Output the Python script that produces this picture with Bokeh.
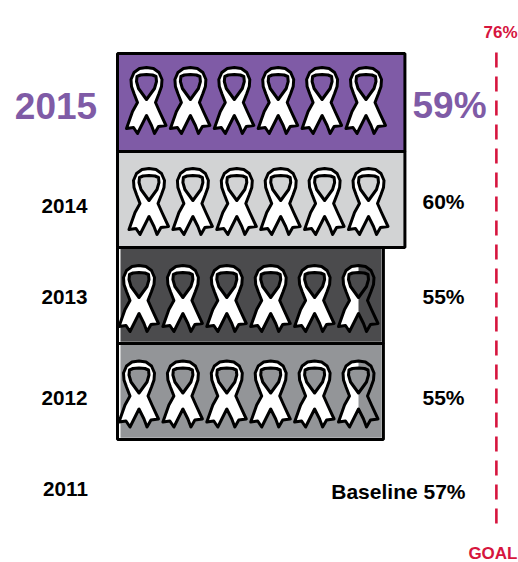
from bokeh.plotting import figure
from bokeh.models import Range1d
from bokeh.core.properties import value
from bokeh.embed import file_html
from bokeh.resources import INLINE

# ---- data ----
years = [2015, 2014, 2013, 2012]
percent = [59, 60, 55, 55]
bar_end = [59, 59, 55, 55]          # the bars as drawn (2014 stops with 2015)
ribbons_filled = [6, 6, 5.5, 5.5]   # one ribbon = 10 %
baseline_year = 2011
baseline_pct = 57
goal_pct = 76

# ---- styles ----
PURPLE = "#7f5ba6"
RED = "#d6153e"
bar_colors = [PURPLE, "#d2d3d4", "#4b4b4d", "#939598"]
bar_inset_px = [0, 0, 3.0, 3.0]

# ---- scales: px per percent, px per year ----
W, H = 518, 562
PX_PCT, PX_YEAR = 5.38, 96.0
x_start = -87 / PX_PCT
y_top = 2015 + 103 / PX_YEAR
x_range = Range1d(x_start, x_start + W / PX_PCT)
y_range = Range1d(y_top - H / PX_YEAR, y_top)

p = figure(width=W, height=H, x_range=x_range, y_range=y_range,
           x_axis_location=None, y_axis_location=None,
           toolbar_location=None, output_backend="svg",
           min_border=0, outline_line_color=None, background_fill_color="white")
p.grid.visible = False

def dx(px): return px / PX_PCT
def dy(px): return px / PX_YEAR

# ---- bars ----
bar_left = dx(30)
bar_top_off = [dy(50), dy(48), dy(48), dy(48)]
bar_bot_off = [dy(48), dy(48), dy(48), dy(48)]
tops = [y + t for y, t in zip(years, bar_top_off)]
bots = [y - b for y, b in zip(years, bar_bot_off)]
p.quad(left=[bar_left] * 4, right=bar_end, top=tops, bottom=bots,
       fill_color="white", line_color=None)
p.quad(left=[bar_left + dx(i) for i in bar_inset_px],
       right=[e - dx(i * 0.6) for e, i in zip(bar_end, bar_inset_px)],
       top=[t - dy(i * 0.3) for t, i in zip(tops, bar_inset_px)],
       bottom=[b + dy(i * 0.6) for b, i in zip(bots, bar_inset_px)],
       fill_color=bar_colors, line_color=None)
p.quad(left=[bar_left] * 4, right=bar_end, top=tops, bottom=bots,
       fill_color=None, line_color="black", line_width=3)

# ---- ribbon shape, px around its centre (y down) ----
RIB_OUT = [(0, -33), (7, -32), (12.5, -28), (15.5, -21), (15, -14), (12.5, -7), (9, 2),
           (13, 11), (19.5, 25), (12, 26), (8, 33), (5, 25), (0, 15),
           (-5, 25), (-9, 33), (-13, 27), (-20, 28), (-14, 11), (-9, 2),
           (-12.5, -7), (-15, -14), (-15.5, -21), (-12.5, -28), (-7, -32)]
RIB_HOLE = [(0, -26), (6, -25.5), (9.5, -24), (10, -19), (8, -12), (0, -1),
            (-8, -12), (-10, -19), (-9.5, -24), (-6, -25.5)]

rib_start_px = [59, 61.5, 51.5, 51.5]   # first ribbon, from scale zero
rib_step_px = 43.9
rib_dy_px = [-3, 2, 3, 2.5]

def place(shape, cx, cy, clip=None):
    xs, ys = [], []
    for u, v in shape:
        if clip is not None:
            u = min(u, clip)
        xs.append(cx + dx(u))
        ys.append(cy - dy(v))
    return xs, ys

fill_x, fill_y, line_x, line_y = [], [], [], []
for yr, start, off, filled in zip(years, rib_start_px, rib_dy_px, ribbons_filled):
    for i in range(6):
        cx = dx(start + i * rib_step_px)
        cy = yr - dy(off)
        clip = 0 if i + 1 > filled else None
        ox, oy = place(RIB_OUT, cx, cy)
        hx, hy = place(RIB_HOLE, cx, cy)
        cox, coy = place(RIB_OUT, cx, cy, clip)
        chx, chy = place(RIB_HOLE, cx, cy, clip)
        fill_x.append([[cox, chx]]); fill_y.append([[coy, chy]])
        line_x.append([[ox, hx]]); line_y.append([[oy, hy]])

p.multi_polygons(fill_x, fill_y, fill_color="white", line_color=None)
p.multi_polygons(line_x, line_y, fill_color=None, line_color="black", line_width=3,
                 line_join="round")

# ---- goal line ----
goal_top = y_top - dy(52)
goal_bot = y_top - dy(523)
p.segment([goal_pct], [goal_top], [goal_pct], [goal_bot],
          line_color=RED, line_width=2.6, line_dash="15 9")

FONT = value("Liberation Sans")
def label(x, y, s, size, color="black", style="normal", align="center", yoff=0):
    p.text([x], [y], text=[s], text_font=FONT, text_font_size=size, text_color=color,
           text_font_style=style, text_align=align, text_baseline="middle", y_offset=yoff)

# big labels
label(dx(-31.5), years[0], str(years[0]), "37px", PURPLE, "bold", yoff=2)
label(dx(362), years[0], f"{percent[0]}%", "37px", PURPLE, "bold", yoff=2)
# year labels
for yr, yo in zip(years[1:], [6, 1, 6]):
    label(dx(-23), yr, str(yr), "20.7px", style="bold", yoff=yo)
label(dx(-22), baseline_year, str(baseline_year), "20.7px", style="bold", yoff=1)
# percentages
for yr, pc, yo in zip(years[1:], percent[1:], [2, 1, 6]):
    label(dx(356), yr, f"{pc}%", "21px", style="bold", yoff=yo)
label(dx(378), baseline_year, f"Baseline {baseline_pct}%", "21px", style="bold", align="right", yoff=4)
# goal, kept whole against the right edge
label(dx(430), y_top - dy(32), f"{goal_pct}%", "17px", RED, "bold", align="right")
label(dx(430), y_top - dy(553), "GOAL", "17px", RED, "bold", align="right")

open("out.html", "w").write(file_html(p, INLINE))
